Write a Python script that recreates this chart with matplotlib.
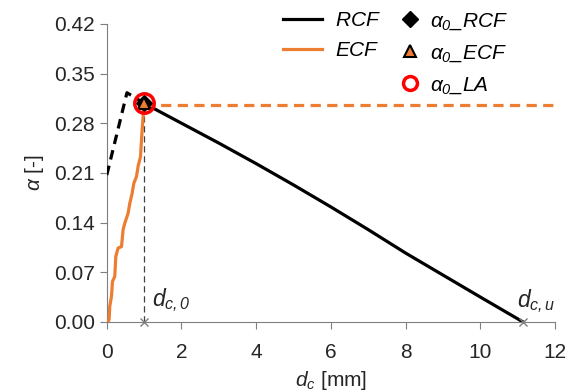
import matplotlib.pyplot as plt
from matplotlib.lines import Line2D

plt.rcParams['font.family'] = ['Liberation Sans', 'DejaVu Sans']
plt.rcParams['mathtext.fontset'] = 'custom'
plt.rcParams['mathtext.it'] = 'Liberation Sans:italic'
plt.rcParams['mathtext.rm'] = 'Liberation Sans:italic'
plt.rcParams['mathtext.default'] = 'it'

# RCF (solid part after the peak)
rcf_d = [1.0, 2, 3, 4, 5, 6, 7, 8, 9, 10, 11.14]
rcf_a = [0.308, 0.280, 0.252, 0.223, 0.193, 0.162, 0.130, 0.097, 0.066, 0.035, 0.0]
# RCF (dashed part before the peak)
rcf0_d = [0.0, 0.54, 1.0]
rcf0_a = [0.207, 0.323, 0.308]
# ECF rise
ecf_d = [0.03, 0.062, 0.08, 0.126, 0.153, 0.214, 0.241, 0.303, 0.394, 0.437, 0.482,
         0.571, 0.616, 0.678, 0.723, 0.796, 0.838, 0.903, 0.930, 0.972, 1.0]
ecf_a = [0.0, 0.003, 0.022, 0.036, 0.057, 0.064, 0.092, 0.104, 0.106, 0.130, 0.139,
         0.153, 0.167, 0.181, 0.195, 0.205, 0.219, 0.233, 0.257, 0.289, 0.306]
ecf_plateau = 0.306
d_c0 = 1.0
d_cu = 11.14
a0 = 0.308

fig = plt.figure(figsize=(5.68, 3.92), dpi=100)
ax = fig.add_axes([0.188, 0.179, 0.789, 0.760])

grey = '#7f7f7f'
ax.plot([d_c0, d_c0], [0, ecf_plateau], color='#404040', lw=0.9, ls=(0, (5, 3)), zorder=2)
ax.plot(rcf0_d, rcf0_a, color='black', lw=2.3, ls=(0, (3, 2)), zorder=3)
ax.plot(rcf_d, rcf_a, color='black', lw=2.3, zorder=3)
ax.plot([d_c0, 12], [ecf_plateau, ecf_plateau], color='#ED7D31', lw=2.3, ls=(0, (3.2, 2)), zorder=3)
ax.plot(ecf_d, ecf_a, color='#ED7D31', lw=2.3, zorder=3)
ax.plot([d_c0, d_cu], [0, 0], ls='none', marker='x', color=grey, ms=6, mew=1, zorder=5, clip_on=False)

ax.plot(d_c0, a0, marker='D', color='black', ms=8, ls='none', zorder=6)
ax.plot(d_c0, a0, marker='^', mfc='#ED7D31', mec='black', mew=1.5, ms=8, ls='none', zorder=7)
ax.plot(d_c0, a0, marker='o', mfc='none', mec='#FF0000', mew=2.5, ms=14, ls='none', zorder=8)

ax.text(1.22, 0.022, r'$d_{c,0}$', fontsize=16.5, color='#262626', va='baseline')
ax.text(10.98, 0.021, r'$d_{c,u}$', fontsize=16.5, color='#262626', va='baseline')

ax.set_xlim(0, 12)
ax.set_ylim(0, 0.42)
ax.set_xticks(range(0, 13, 2))
ax.set_yticks([0.0, 0.07, 0.14, 0.21, 0.28, 0.35, 0.42])
ax.set_yticklabels(['0.00', '0.07', '0.14', '0.21', '0.28', '0.35', '0.42'])
for s in ['top', 'right']:
    ax.spines[s].set_visible(False)
for s in ['left', 'bottom']:
    ax.spines[s].set_color(grey)
ax.tick_params(direction='out', length=5, color=grey, labelsize=15, labelcolor='#262626')
ax.tick_params(axis='x', pad=10)
ax.set_xlabel(r'$d_c$ [mm]', fontsize=15, labelpad=5, color='#262626')
ax.set_ylabel(r'$\alpha$ [-]', fontsize=15, labelpad=6, color='#262626')

line_handles = [
    Line2D([], [], color='black', lw=2.3),
    Line2D([], [], color='#ED7D31', lw=2.3),
]
marker_handles = [
    Line2D([], [], marker='D', color='black', ls='none', ms=8),
    Line2D([], [], marker='^', mfc='#ED7D31', mec='black', mew=1.5, ls='none', ms=8),
    Line2D([], [], marker='o', mfc='none', mec='#FF0000', mew=2.5, ls='none', ms=10),
]
fig.legend(line_handles, [r'$RCF$', r'$ECF$'], frameon=False, fontsize=15,
           loc='upper left', bbox_to_anchor=(0.498, 0.972), borderpad=0,
           borderaxespad=0, handlelength=1.9, labelspacing=0.55, handletextpad=0.6)
fig.legend(marker_handles, [r'$\alpha_0\_RCF$', r'$\alpha_0\_ECF$', r'$\alpha_0\_LA$'],
           frameon=False, fontsize=15, loc='upper left', bbox_to_anchor=(0.704, 0.972),
           borderpad=0, borderaxespad=0, handlelength=1.0, labelspacing=0.55,
           handletextpad=0.45)

fig.savefig('out.png', dpi=100)
